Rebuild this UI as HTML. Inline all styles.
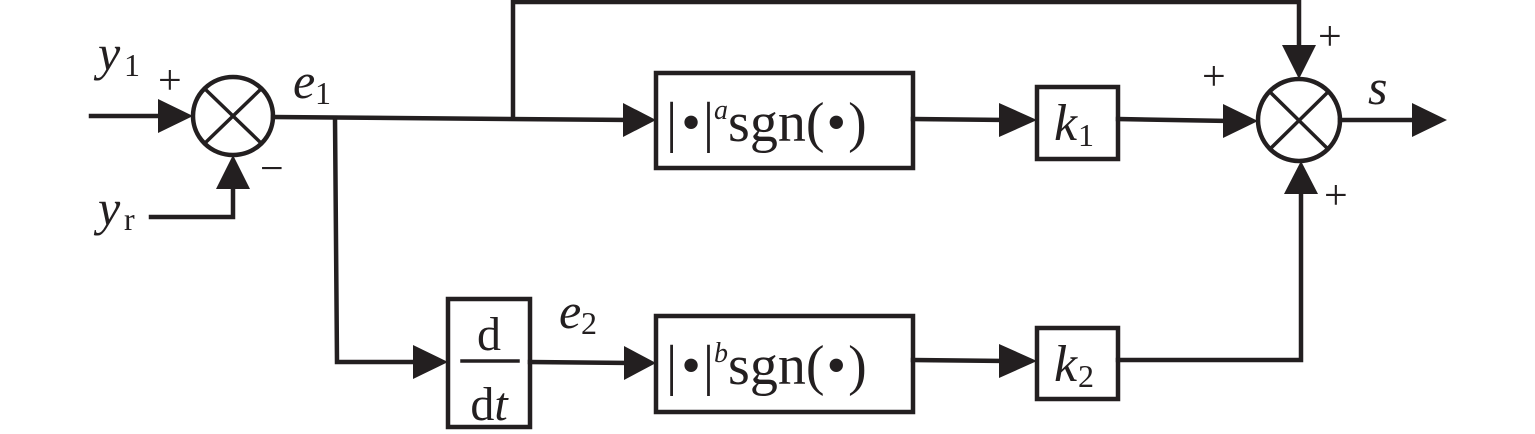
<!DOCTYPE html>
<html><head><meta charset="utf-8"><style>
html,body{margin:0;padding:0;background:#fff;}
svg{display:block;}
text{font-family:"Liberation Serif","DejaVu Serif",serif;fill:#231f20;}
</style></head><body>
<svg width="1535" height="434" viewBox="0 0 1535 434" xmlns="http://www.w3.org/2000/svg">
<g stroke="#231f20" stroke-width="4.5" fill="none" stroke-linecap="square">
<ellipse cx="233" cy="116" rx="40" ry="39"/>
<line x1="205" y1="89" x2="261" y2="143" stroke-width="3.5"/>
<line x1="261" y1="89" x2="205" y2="143" stroke-width="3.5"/>
<line x1="91" y1="116" x2="170" y2="116"/>
<polyline points="151,217 233,217 233,175"/>
<line x1="273" y1="117" x2="630" y2="120"/>
<polyline points="335,118 337,362 420,362"/>
<polyline points="513,118 513,2 1299,2 1299,50"/>
<rect x="448" y="299" width="82" height="128"/>
<line x1="462" y1="361" x2="518" y2="361" stroke-width="3.5"/>
<line x1="530" y1="362" x2="630" y2="363"/>
<rect x="656" y="73" width="257" height="95"/>
<rect x="656" y="316" width="257" height="96"/>
<line x1="913" y1="119" x2="1005" y2="120"/>
<line x1="913" y1="360" x2="1005" y2="361"/>
<rect x="1037" y="87" width="81" height="72"/>
<rect x="1037" y="328" width="81" height="71"/>
<line x1="1118" y1="119" x2="1228" y2="121"/>
<polyline points="1118,360 1301,360 1301,190"/>
<ellipse cx="1299" cy="120" rx="41" ry="41"/>
<line x1="1270" y1="92" x2="1328" y2="149" stroke-width="3.5"/>
<line x1="1328" y1="92" x2="1270" y2="149" stroke-width="3.5"/>
<line x1="1340" y1="120" x2="1415" y2="120"/>
</g>
<g fill="#231f20">
<polygon points="158,99 193,116 158,133"/>
<polygon points="216,189 233,155 250,189"/>
<polygon points="623,103 656,120 623,137"/>
<polygon points="413,345 448,362 413,379"/>
<polygon points="624,346 656,363 624,380"/>
<polygon points="999,103 1037,120 999,137"/>
<polygon points="999,344 1037,361 999,378"/>
<polygon points="1223,104 1258,121 1223,138"/>
<polygon points="1282,45 1299,79 1316,45"/>
<polygon points="1284,194 1301,161 1318,194"/>
<polygon points="1412,103 1447,120 1412,137"/>
</g>
<text x="98" y="70" font-size="50" font-style="italic">y</text><text x="124" y="76" font-size="32">1</text>
<text x="158" y="94" font-size="42">+</text>
<text x="260" y="182" font-size="42">−</text>
<text x="98" y="225" font-size="50" font-style="italic">y</text><text x="124" y="230" font-size="32">r</text>
<text x="293" y="98" font-size="50" font-style="italic">e</text><text x="315" y="104" font-size="32">1</text>
<text x="559" y="328" font-size="50" font-style="italic">e</text><text x="581" y="334" font-size="32">2</text>
<text x="489" y="350" font-size="48" text-anchor="middle">d</text>
<text x="489" y="420" font-size="48" text-anchor="middle">d<tspan font-style="italic">t</tspan></text>
<text x="666" y="141" font-size="56">|<tspan dx="4">•</tspan><tspan dx="2">|</tspan><tspan font-size="28" font-style="italic" dy="-22">a</tspan><tspan dy="22">sgn(</tspan><tspan dx="2">•</tspan><tspan dx="2">)</tspan></text>
<text x="666" y="384" font-size="56">|<tspan dx="4">•</tspan><tspan dx="2">|</tspan><tspan font-size="28" font-style="italic" dy="-22">b</tspan><tspan dy="22">sgn(</tspan><tspan dx="2">•</tspan><tspan dx="2">)</tspan></text>
<text x="1054" y="140" font-size="52" font-style="italic">k</text><text x="1078" y="146" font-size="32">1</text>
<text x="1054" y="381" font-size="52" font-style="italic">k</text><text x="1078" y="387" font-size="32">2</text>
<text x="1318" y="50" font-size="42">+</text>
<text x="1202" y="90" font-size="42">+</text>
<text x="1324" y="209" font-size="42">+</text>
<text x="1368" y="104" font-size="50" font-style="italic">s</text>
</svg>
</body></html>
